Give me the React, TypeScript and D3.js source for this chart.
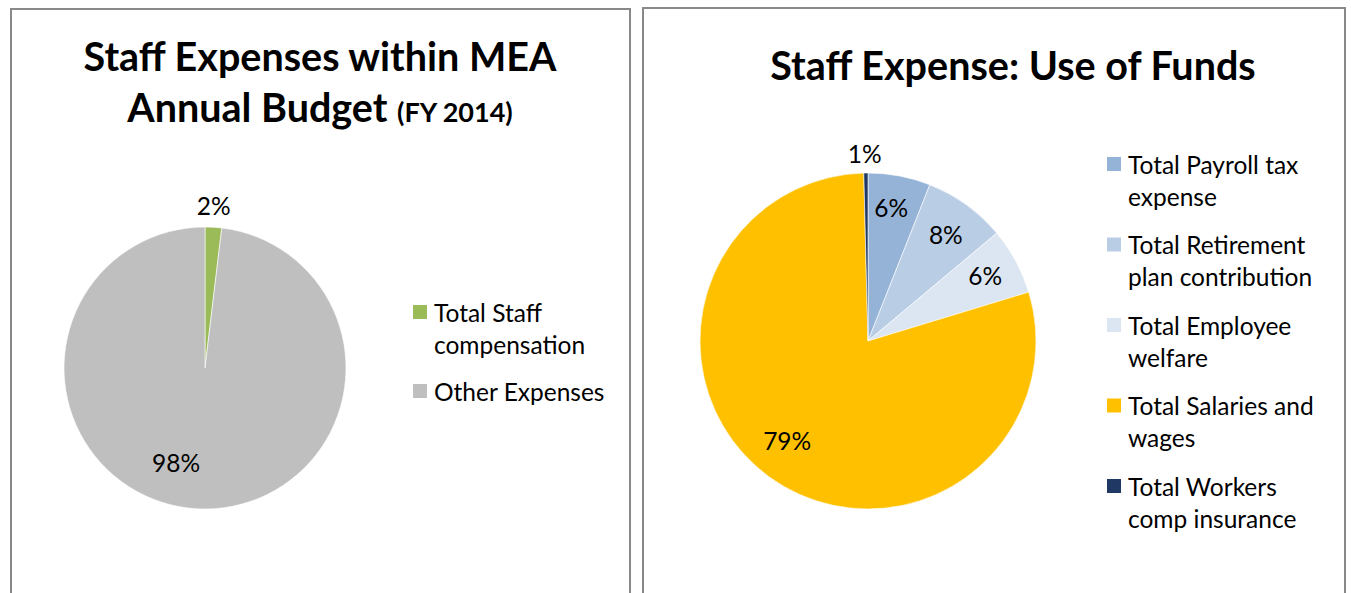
import React from "react";
import * as d3 from "d3";

const leftLabels = ["Total Staff compensation", "Other Expenses"];
const leftValues = [1.9, 98.1];
const leftText = ["2%", "98%"];
const leftColors = ["#9BBB59", "#BFBFBF"];
const leftLegendLines = [["Total Staff", "compensation"], ["Other Expenses"]];

const rightLabels = [
  "Total Payroll tax expense",
  "Total Retirement plan contribution",
  "Total Employee welfare",
  "Total Salaries and wages",
  "Total Workers comp insurance",
];
const rightValues = [6.0, 7.9, 6.4, 79.3, 0.4];
const rightText = ["6%", "8%", "6%", "79%", "1%"];
const rightColors = ["#95B3D7", "#B9CDE5", "#DCE6F2", "#FFC000", "#1F3864"];
const rightLegendLines = [
  ["Total Payroll tax", "expense"],
  ["Total Retirement", "plan contribution"],
  ["Total Employee", "welfare"],
  ["Total Salaries and", "wages"],
  ["Total Workers", "comp insurance"],
];

const FONT = "Lato, 'Open Sans', sans-serif";
const FS = 24.5;
const TFS = 39.5;

type PieProps = {
  cx: number;
  cy: number;
  r: number;
  values: number[];
  colors: string[];
  labels: string[];
  labelPos: [number, number, number, number][];
};

function Pie({ cx, cy, r, values, colors, labels, labelPos }: PieProps) {
  const arcs = d3.pie<number>().sort(null).value((d) => d)(values);
  const arcGen = d3.arc<d3.PieArcDatum<number>>().innerRadius(0).outerRadius(r);
  return (
    <g transform={`translate(${cx},${cy})`}>
      {arcs.map((a, i) => (
        <path key={i} d={arcGen(a) || ""} fill={colors[i]} stroke="#fff" strokeWidth={0.6} />
      ))}
      {arcs.map((a, i) => {
        const mid = (a.startAngle + a.endAngle) / 2;
        const [f, extra, dx, dy] = labelPos[i];
        const rr = r * f + extra;
        return (
          <text
            key={"t" + i}
            x={Math.sin(mid) * rr + dx}
            y={-Math.cos(mid) * rr + dy}
            textAnchor="middle"
            dominantBaseline="central"
            fontFamily={FONT}
            fontSize={FS}
            fill="#000"
          >
            {labels[i]}
          </text>
        );
      })}
    </g>
  );
}

export default function App() {
  return (
    <svg
      width={1351}
      height={593}
      style={{ position: "absolute", left: 0, top: 0, background: "#fff" }}
    >
      <rect x={0} y={0} width={1351} height={593} fill="#fff" />
      <path d="M11,600 V9 H630 V600" fill="none" stroke="#898989" strokeWidth={2} />
      <path d="M643,600 V8 H1345 V600" fill="none" stroke="#898989" strokeWidth={2} />

      <text x={320} y={71} textAnchor="middle" fontFamily={FONT} fontWeight="bold" fontSize={TFS} fill="#000">
        Staff Expenses within MEA
      </text>
      <text x={320} y={122} textAnchor="middle" fontFamily={FONT} fontWeight="bold" fontSize={TFS} fill="#000">
        Annual Budget <tspan fontSize={27}>(FY 2014)</tspan>
      </text>

      <Pie
        cx={205}
        cy={368}
        r={141}
        values={leftValues}
        colors={leftColors}
        labels={leftText}
        labelPos={[[1, 20, -1, -2], [0.7, 0, -23, -4]]}
      />

      {leftLegendLines.map((lines, i) => {
        const y0 = i === 0 ? 312 : 391;
        return (
          <g key={i}>
            <rect x={413} y={y0 - 7} width={14} height={14} fill={leftColors[i]} />
            {lines.map((ln, j) => (
              <text
                key={j}
                x={434}
                y={y0 + j * 32}
                dominantBaseline="central"
                fontFamily={FONT}
                fontSize={FS}
                fill="#000"
              >
                {ln}
              </text>
            ))}
          </g>
        );
      })}

      <text x={1013} y={80} textAnchor="middle" fontFamily={FONT} fontWeight="bold" fontSize={TFS} fill="#000">
        Staff Expense: Use of Funds
      </text>

      <Pie
        cx={868}
        cy={341}
        r={168}
        values={rightValues}
        colors={rightColors}
        labels={rightText}
        labelPos={[[0.8, 0, -2, -1], [0.7, 0, 9, -11], [0.78, 0, 2, -3], [0.7, 0, -12, 4], [1, 18, -1, -2]]}
      />

      {rightLegendLines.map((lines, i) => {
        const y0 = 164 + i * 80.5;
        return (
          <g key={i}>
            <rect x={1107} y={y0 - 7} width={14} height={14} fill={rightColors[i]} />
            {lines.map((ln, j) => (
              <text
                key={j}
                x={1128}
                y={y0 + j * 32}
                dominantBaseline="central"
                fontFamily={FONT}
                fontSize={FS}
                fill="#000"
              >
                {ln}
              </text>
            ))}
          </g>
        );
      })}
    </svg>
  );
}
